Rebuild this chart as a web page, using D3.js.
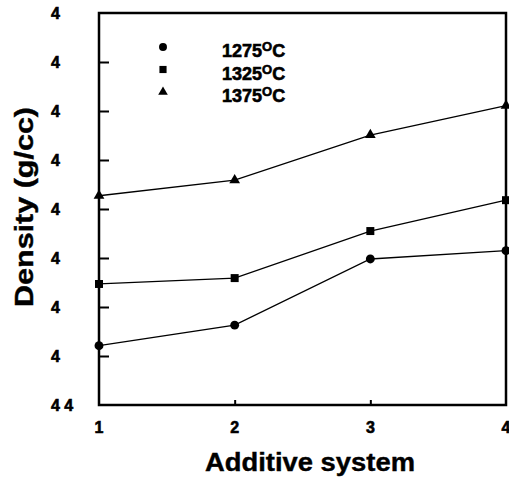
<!DOCTYPE html>
<meta charset="utf-8">
<style>
body {
  margin: 0;
  background: #ffffff;
}

svg {
  display: block;
}

text {
  font-family: 'Liberation Sans', Arial, sans-serif;
  font-weight: 700;
  fill: #000000;
}

.frame {
  fill: none;
  stroke: #000000;
  stroke-width: 2.5;
}

.axis path {
  stroke-width: 0;
}

.axis line {
  stroke: #000000;
  stroke-width: 2;
}

.series {
  fill: none;
  stroke: #000000;
  stroke-width: 1.3;
}

.mark {
  fill: #000000;
}

text.tick {
  font-size: 16px;
  stroke: #000000;
  stroke-width: 0.6;
}

text.label {
  font-size: 26px;
  stroke: #000000;
  stroke-width: 0.4;
}

text.legend {
  font-size: 18px;
  stroke: #000000;
  stroke-width: 0.6;
}
</style>
<body>
<svg width="509" height="478"></svg>

<script src="https://d3js.org/d3.v7.min.js"></script>
<script>

const systems = [1, 2, 3, 4];
const yTickValues = [4.4, 4.5, 4.6, 4.7, 4.8, 4.9, 5.0, 5.1, 5.2];
const yTickLabels = ['4 4', '4', '4', '4', '4', '4', '4', '4', '4'];

const temps = ['1275', '1325', '1375'];
const density1275 = [4.521, 4.563, 4.698, 4.715];
const density1325 = [4.647, 4.659, 4.755, 4.818];
const density1375 = [4.827, 4.859, 4.951, 5.011];

const series = [
  { temp: temps[0], values: density1275, symbol: d3.symbolCircle, size: 62 },
  { temp: temps[1], values: density1325, symbol: d3.symbolSquare, size: 64 },
  { temp: temps[2], values: density1375, symbol: d3.symbolTriangle, size: 50 }
];

const svg = d3.select('svg');

const plotL = 99, plotR = 506, plotT = 13, plotB = 405;

const x = d3.scaleLinear().domain([1, 4]).range([plotL, plotR]);
const y = d3.scaleLinear().domain([4.4, 5.2]).range([plotB, plotT]);

// left axis: inward ticks, labels sitting left of the frame
svg.append('g')
  .attr('class', 'axis')
  .attr('transform', `translate(${plotL}, 0)`)
  .call(d3.axisRight(y)
    .tickValues(yTickValues.slice(1, -1))
    .tickSize(10)
    .tickFormat(''));

svg.append('g')
  .selectAll('text')
  .data(yTickValues)
  .enter()
  .append('text')
  .attr('class', 'tick')
  .attr('x', 51)
  .attr('y', (d) => y(d) + 6)
  .text((d, i) => yTickLabels[i]);

// bottom axis
svg.append('g')
  .attr('class', 'axis')
  .attr('transform', `translate(0, ${plotB})`)
  .call(d3.axisTop(x)
    .tickValues([2, 3])
    .tickSize(5)
    .tickFormat(''));

svg.append('g')
  .selectAll('text')
  .data(systems)
  .enter()
  .append('text')
  .attr('class', 'tick')
  .attr('x', (d) => x(d))
  .attr('y', 433)
  .attr('text-anchor', 'middle')
  .text((d) => d);

// series lines + markers
const line = d3.line()
  .x((d, i) => x(systems[i]))
  .y((d) => y(d));

series.forEach((s) => {
  svg.append('path')
    .attr('class', 'series')
    .attr('d', line(s.values));

  svg.append('g')
    .selectAll('path')
    .data(s.values)
    .enter()
    .append('path')
    .attr('class', 'mark')
    .attr('transform', (d, i) => `translate(${x(systems[i])}, ${y(d)})`)
    .attr('d', d3.symbol().type(s.symbol).size(s.size));
});

// frame on top
svg.append('rect')
  .attr('class', 'frame')
  .attr('x', plotL)
  .attr('y', plotT)
  .attr('width', plotR - plotL)
  .attr('height', plotB - plotT);

// legend
const legend = svg.append('g')
  .selectAll('g')
  .data(series)
  .enter()
  .append('g')
  .attr('transform', (d, i) => `translate(0, ${i * 22.5})`);

legend.append('path')
  .attr('class', 'mark')
  .attr('transform', 'translate(163, 47)')
  .attr('d', (d) => d3.symbol().type(d.symbol).size(d.size * 0.8)());

const lt = legend.append('text')
  .attr('class', 'legend')
  .attr('x', 222)
  .attr('y', 57);
lt.append('tspan').text((d) => d.temp);
lt.append('tspan')
  .attr('dy', -6)
  .style('font-size', '13px')
  .text('O');
lt.append('tspan')
  .attr('dy', 6)
  .text('C');

// axis titles
svg.append('text')
  .attr('class', 'label')
  .attr('x', 310)
  .attr('y', 471)
  .attr('text-anchor', 'middle')
  .attr('textLength', 210)
  .attr('lengthAdjust', 'spacingAndGlyphs')
  .text('Additive system');

svg.append('text')
  .attr('class', 'label')
  .attr('transform', 'translate(33, 207) rotate(-90)')
  .attr('text-anchor', 'middle')
  .attr('textLength', 200)
  .attr('lengthAdjust', 'spacingAndGlyphs')
  .text('Density (g/cc)');

</script>
</body>
